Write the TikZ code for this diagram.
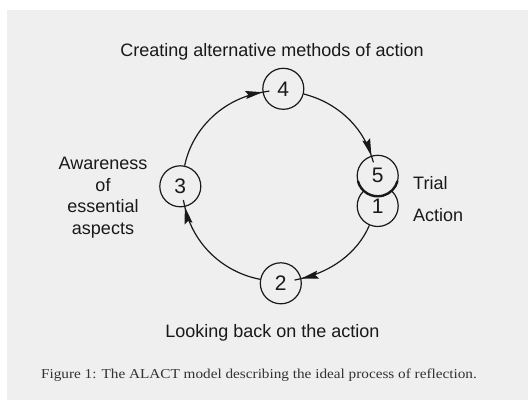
\documentclass[tikz,border=0pt]{standalone}
\usepackage{fontspec}
\setmainfont{Liberation Sans}
\newfontfamily\captionserif[FakeStretch=1.12]{Liberation Serif}
\usetikzlibrary{arrows.meta,positioning}
\definecolor{panelgray}{RGB}{239,239,239}
\definecolor{inkgray}{RGB}{25,25,25}
\definecolor{capgray}{RGB}{50,50,50}

\begin{document}
\begin{tikzpicture}[x=1pt,y=1pt,
  stage/.style={circle,draw=inkgray,fill=panelgray,line width=1.2pt,minimum size=41pt,inner sep=0pt,
    text=inkgray,font=\fontsize{21}{21}\selectfont},
  lbl/.style={text=inkgray,inner sep=0pt,font=\fontsize{18}{21.5}\selectfont},
  flow/.style={draw=inkgray,line width=1.2pt,shorten >=-7pt,
    -{Stealth[length=17pt,width=8pt,inset=2.5pt,sep=0pt]Rectangle[length=7pt,width=1.2pt,line width=0pt,sep=0pt]}}]
\useasboundingbox (0,0) rectangle (528,400);
\fill[panelgray] (7,0) rectangle (528,390);
% ALACT cycle
\node[stage] (n1) at (377.7,194) {1};
\node[stage] (n5) at (377.7,224.2) {5};
\draw[inkgray,line width=2.4pt] ([shift={(195:20.5)}]n5.center) arc[start angle=195,end angle=345,radius=20.5];
\node[stage] (n4) at (283.3,311.2) {4};
\node[stage] (n2) at (280.8,116.7) {2};
\node[stage] (n3) at (180.3,213.7) {3};
\draw[flow] (n4) to[out=-14.5,in=107.9,looseness=0.91] (n5);
\draw[flow] (n1) to[out=-113.5,in=13.1,looseness=0.9] (n2);
\draw[flow] (n2) to[out=169.1,in=-77.8,looseness=0.93] (n3);
\draw[flow] (n3) to[out=78.2,in=189.5,looseness=0.93] (n4);
% labels
\node[lbl,anchor=base] (create) at (272,343.8) {Creating alternative methods of action};
\node[lbl,align=center] (aware) at (103,202.2) {Awareness\\of\\essential\\aspects};
\node[lbl,anchor=west] (trial) at (413,216.5) {Trial};
\node[lbl,anchor=west] (act) at (413,184.5) {Action};
\node[lbl,anchor=base] (look) at (272.4,62.3) {Looking back on the action};
\node[anchor=base,inner sep=0pt,text=capgray,font=\captionserif\fontsize{13.6}{16}\selectfont] (caption) at (259,21.2)
  {Figure 1: The ALACT model describing the ideal process of reflection.};
\end{tikzpicture}
\end{document}
